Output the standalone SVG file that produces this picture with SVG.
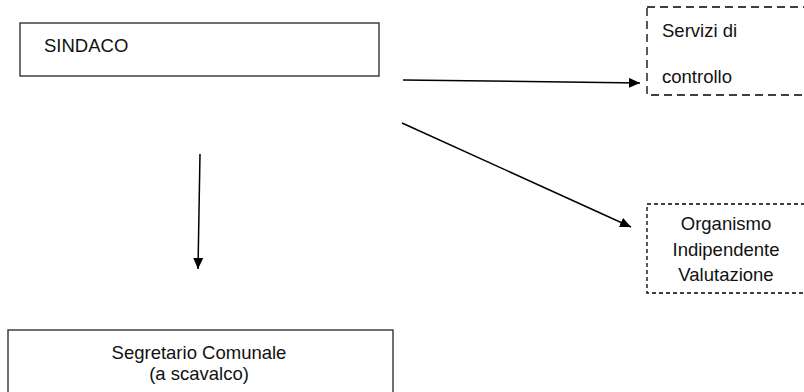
<svg xmlns="http://www.w3.org/2000/svg" width="804" height="392" viewBox="0 0 804 392">
<style>
.box{fill:#fff;stroke:#333;stroke-width:1.4}
.dbox{fill:#fff;stroke:#000;stroke-width:1.3;stroke-dasharray:8 5}
.dbox2{fill:#fff;stroke:#000;stroke-width:1.3;stroke-dasharray:4 3}
.t{font-family:"Liberation Sans",Arial,sans-serif;font-size:18.5px;fill:#111}
.c{text-anchor:middle}
.edge{stroke:#000;stroke-width:1.5;fill:none;marker-end:url(#ah)}
</style>
<defs>
<marker id="ah" markerUnits="userSpaceOnUse" markerWidth="12" markerHeight="11" refX="11" refY="5" orient="auto">
<path d="M0,0 L11,5 L0,10 Z" fill="#000"/>
</marker>
</defs>
<rect width="804" height="392" fill="#fff"/>
<g id="sindaco">
<rect class="box" x="20" y="23" width="359" height="53"/>
<text class="t" x="44" y="52">SINDACO</text>
</g>
<g id="servizi">
<rect class="dbox" x="647" y="7" width="170" height="88"/>
<text class="t" x="662" y="37">Servizi di</text>
<text class="t" x="662" y="83">controllo</text>
</g>
<g id="oiv">
<rect class="dbox2" x="647" y="204" width="170" height="89"/>
<text class="t c" x="726" y="230">Organismo</text>
<text class="t c" x="726" y="256">Indipendente</text>
<text class="t c" x="726" y="281">Valutazione</text>
</g>
<g id="segretario">
<rect class="box" x="8" y="330" width="385" height="80"/>
<text class="t c" x="199" y="359">Segretario Comunale</text>
<text class="t c" x="199" y="380">(a scavalco)</text>
</g>
<g id="connectors">
<line class="edge" x1="403" y1="80" x2="640" y2="83"/>
<line class="edge" x1="402" y1="123" x2="631" y2="227"/>
<line class="edge" x1="200" y1="154" x2="198" y2="269"/>
</g>
</svg>
